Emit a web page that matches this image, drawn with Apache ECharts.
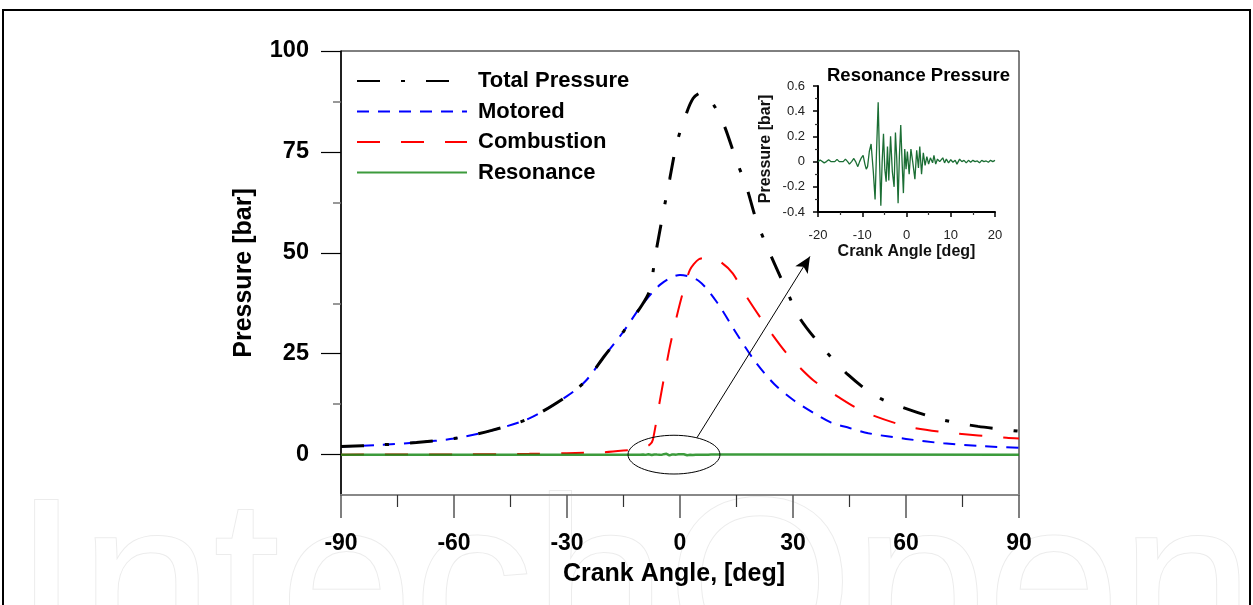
<!DOCTYPE html>
<html>
<head>
<meta charset="utf-8">
<script src="https://cdn.jsdelivr.net/npm/echarts@6/dist/echarts.min.js"></script>
<style>html,body{margin:0;padding:0;background:#fff;}#c{width:1253px;height:605px;}</style>
</head>
<body>
<div id="c"></div>
<script>
// ---- data ----
const xTicks = [-90, -60, -30, 0, 30, 60, 90];
const yTicks = [0, 25, 50, 75, 100];
const yMinorTicks = [12.5, 37.5, 62.5, 87.5];

const totalPressure = [[-90,2.0],[-80,2.4],[-70,3.0],[-60,4.0],[-50,6.0],[-40,9.0],[-30,14.5],[-25,18.3],[-20,24.5],[-15,30.5],[-10,37.2],[-8,40.8],[-6.6,49],[-4.5,59.7],[-2.7,68.4],[-0.9,77],[1.3,83.5],[3.5,88.3],[5.8,89.7],[8,88],[11.4,82.3],[15,72.8],[17.7,66.2],[20.3,58],[23.9,49.8],[28.3,40.7],[31.8,33.8],[38,26.4],[44.6,19.8],[52.2,14.4],[61,11.1],[69.8,8.6],[79.1,7.0],[90,5.8]];

const motored = [[-90,2.0],[-80,2.4],[-70,3.0],[-60,4.0],[-50,6.0],[-40,9.0],[-30,14.5],[-25,18.3],[-20,24.5],[-15,30.5],[-10,37.2],[-5,42.3],[0,44.5],[5,43.0],[10,37.5],[15,30.0],[20,23.0],[25,17.5],[30,13.6],[35,10.6],[40,8.0],[45,6.6],[50,5.3],[60,3.9],[70,2.8],[80,2.1],[90,1.7]];

const combustion = [[-90,0],[-60,0.05],[-40,0.2],[-30,0.35],[-20,0.6],[-15,1.0],[-10,1.6],[-8,2.5],[-7.2,3.7],[-5.3,13.6],[-2.7,26.7],[0,37.5],[2.6,45.7],[5,48.4],[8,48.9],[11,47.6],[14,44.9],[17.7,39.1],[23,31.7],[28.3,25.1],[35.3,18.5],[42,14.3],[48.6,10.7],[60.2,7.0],[71.7,5.4],[86.7,4.2],[90,4.0]];

const resonance = [[-20,0],[-19.5,0.012],[-19.1,0.0],[-18.6,-0.01],[-18.1,0.0],[-17.6,0.014],[-17.1,0.0],[-16.7,-0.012],[-16.2,0.0],[-15.7,0.018],[-15.2,0.0],[-14.8,-0.015],[-14.3,0.0],[-13.8,0.02],[-13.3,0.0],[-12.9,-0.02],[-12.4,0.0],[-11.9,0.025],[-11.5,0.0],[-11.0,-0.04],[-10.6,0.0],[-10.2,0.03],[-9.8,0.05],[-9.4,-0.02],[-9.1,-0.06],[-8.8,-0.04],[-8.4,0.08],[-8.0,0.14],[-7.5,-0.08],[-7.1,-0.30],[-6.8,0.05],[-6.4,0.47],[-6.1,0.02],[-5.8,-0.35],[-5.5,0.0],[-5.2,0.22],[-4.9,-0.06],[-4.6,-0.16],[-4.3,0.12],[-4.0,-0.15],[-3.6,0.2],[-3.2,-0.08],[-2.8,-0.2],[-2.5,0.23],[-2.2,0.02],[-1.9,-0.33],[-1.6,0.05],[-1.3,0.29],[-1.0,0.0],[-0.7,-0.25],[-0.4,0.1],[-0.1,-0.06],[0.2,0.08],[0.6,-0.1],[1.0,0.1],[1.4,0.0],[1.9,-0.14],[2.3,0.09],[2.7,-0.05],[3.0,0.12],[3.4,-0.1],[3.8,0.07],[4.2,-0.03],[4.6,0.04],[5.0,-0.02],[5.4,0.03],[5.9,-0.01],[6.2,0.05],[6.6,-0.02],[7.0,0.02],[7.5,0.0],[8.2,0.03],[8.6,-0.01],[9.0,0.02],[9.5,-0.01],[10,0.015],[10.5,-0.005],[11,0.01],[11.4,-0.02],[12,0.02],[12.5,0.0],[13,0.01],[13.5,-0.01],[14,0.01],[14.5,-0.005],[15,0.01],[15.5,0.0],[16,0.005],[16.5,-0.01],[17,0.01],[17.5,0.0],[18,0.005],[18.5,-0.005],[19,0.01],[19.5,0.0],[20,0.01]];

const arrowFrom = [4.5, 4.2];
const arrowTo = [34.5, 49.1];
const ellipseCenter = [-1.6, 0];
const ellipseHalf = [12.2, 4.8];

const FONT = 'Arial, "Liberation Sans", sans-serif';
const resonanceMain = [[-90,0]].concat(resonance, [[90,0]]);

const chart = echarts.init(document.getElementById('c'), null, {renderer:'canvas'});
const option = {
  animation: false,
  backgroundColor: '#fff',
  textStyle: {fontFamily: FONT},
  grid: [
    {left: 341, top: 51, right: 234, bottom: 110, show: true, borderColor: '#000', borderWidth: 1, containLabel: false},
    {left: 818, top: 86, width: 177, bottom: 393, show: false, containLabel: false}
  ],
  legend: {
    data: ['Total Pressure', 'Motored', 'Combustion', 'Resonance'],
    orient: 'vertical', left: 356, top: 70, padding: 0,
    itemWidth: 110, itemHeight: 14, itemGap: 8.5,
    itemStyle: {opacity: 0},
    textStyle: {fontFamily: FONT, fontWeight: 'bold', fontSize: 22, color: '#000', padding: [0,0,0,6]},
    selectedMode: false
  },
  xAxis: [
    {gridIndex: 0, type: 'value', min: -90, max: 90, interval: 30,
     axisLine: {show: true, onZero: false, lineStyle: {color: '#888', width: 2}},
     axisTick: {show: true, length: 23, lineStyle: {color: '#555', width: 1.5}},
     minorTick: {show: true, splitNumber: 2, length: 12, lineStyle: {color: '#333', width: 1.2}},
     splitLine: {show: false},
     axisLabel: {fontFamily: FONT, fontWeight: 'bold', fontSize: 23, color: '#000', margin: 37},
     name: 'Crank Angle, [deg]', nameLocation: 'middle', nameGap: 67,
     nameTextStyle: {fontFamily: FONT, fontWeight: 'bold', fontSize: 25, color: '#000', padding: [0, 12, 0, 0]}
    },
    {gridIndex: 1, type: 'value', min: -20, max: 20, interval: 10,
     axisLine: {show: true, onZero: false, lineStyle: {color: '#000', width: 2}},
     axisTick: {show: true, length: 5, lineStyle: {color: '#000', width: 1.5}},
     minorTick: {show: true, splitNumber: 2, length: 3, lineStyle: {color: '#333', width: 1.2}},
     splitLine: {show: false},
     axisLabel: {fontFamily: FONT, fontSize: 13, color: '#222', margin: 17},
     name: 'Crank Angle [deg]', nameLocation: 'middle', nameGap: 32,
     nameTextStyle: {fontFamily: FONT, fontWeight: 'bold', fontSize: 16, color: '#111'}
    }
  ],
  yAxis: [
    {gridIndex: 0, type: 'value', min: -10, max: 100, position: 'left',
     axisLine: {show: true, onZero: false, lineStyle: {color: '#000', width: 1.5}},
     axisTick: {show: true, length: 20, customValues: yTicks, lineStyle: {color: '#000', width: 1.2}},
     splitLine: {show: false},
     axisLabel: {fontFamily: FONT, fontWeight: 'bold', fontSize: 23.5, color: '#000', margin: 32, customValues: yTicks},
     name: 'Pressure [bar]', nameLocation: 'middle', nameGap: 84, nameRotate: 90,
     nameTextStyle: {fontFamily: FONT, fontWeight: 'bold', fontSize: 25, color: '#000'}
    },
    {gridIndex: 0, type: 'value', min: -10, max: 100, position: 'left',
     axisLine: {show: false, onZero: false},
     axisTick: {show: true, length: 8, customValues: yMinorTicks, lineStyle: {color: '#777', width: 1.5}},
     axisLabel: {show: false}, splitLine: {show: false}
    },
    {gridIndex: 1, type: 'value', min: -0.4, max: 0.6, interval: 0.2, position: 'left',
     axisLine: {show: true, onZero: false, lineStyle: {color: '#000', width: 2}},
     axisTick: {show: true, length: 5, lineStyle: {color: '#000', width: 1.5}},
     minorTick: {show: true, splitNumber: 2, length: 3, lineStyle: {color: '#333', width: 1.2}},
     splitLine: {show: false},
     axisLabel: {fontFamily: FONT, fontSize: 13, color: '#222', margin: 13},
     name: 'Pressure [bar]', nameLocation: 'middle', nameGap: 44, nameRotate: 90,
     nameTextStyle: {fontFamily: FONT, fontWeight: 'bold', fontSize: 16, color: '#111'}
    }
  ],
  series: [
    {name: 'Combustion', type: 'line', xAxisIndex: 0, yAxisIndex: 0, data: combustion, smooth: 0.25,
     showSymbol: false, symbol: 'none', z: 3,
     itemStyle: {color: '#ff0000'},
     lineStyle: {color: '#ff0000', width: 2, type: [23, 21]}},
    {name: 'Motored', type: 'line', xAxisIndex: 0, yAxisIndex: 0, data: motored, smooth: 0.3,
     showSymbol: false, symbol: 'none', z: 4,
     itemStyle: {color: '#0000ff'},
     lineStyle: {color: '#0000ff', width: 2, type: [12, 9]}},
    {name: 'Total Pressure', type: 'line', xAxisIndex: 0, yAxisIndex: 0, data: totalPressure, smooth: 0.3,
     showSymbol: false, symbol: 'none', z: 5,
     itemStyle: {color: '#000'},
     lineStyle: {color: '#000', width: 3, type: [23, 21, 4, 21]}},
    {name: 'Resonance', type: 'line', xAxisIndex: 0, yAxisIndex: 0, data: resonanceMain,
     showSymbol: false, symbol: 'none', z: 6,
     itemStyle: {color: '#1a8a1a'},
     lineStyle: {color: '#1a8a1a', width: 2.5, opacity: 0.85},
     markLine: {silent: true, symbol: ['none', 'arrow'], symbolSize: [11, 16], label: {show: false},
       lineStyle: {color: '#000', width: 1, type: 'solid'}, emphasis: {disabled: true},
       data: [[{coord: arrowFrom}, {coord: arrowTo}]]}},
    {name: 'Resonance Pressure', type: 'line', xAxisIndex: 1, yAxisIndex: 2, data: resonance,
     showSymbol: false, symbol: 'none', z: 6,
     lineStyle: {color: '#1b6e34', width: 1.3}}
  ]
};
chart.setOption(option);

// annotations placed through the chart's own scales
const c = chart.convertToPixel({gridIndex: 0}, ellipseCenter);
const e = chart.convertToPixel({gridIndex: 0}, [ellipseCenter[0] + ellipseHalf[0], ellipseCenter[1] + ellipseHalf[1]]);
const insetTop = chart.convertToPixel({gridIndex: 1}, [0, 0.6]);
chart.setOption({
  graphic: [
    {type: 'text', left: 12, top: 478, z: -10, silent: true,
     style: {text: 'IntechOpen', font: '240px ' + FONT, fill: '#fff', stroke: '#ececec', lineWidth: 2}},
    {type: 'ellipse', z: 20, silent: true,
     shape: {cx: c[0], cy: c[1], rx: Math.abs(e[0] - c[0]), ry: Math.abs(c[1] - e[1])},
     style: {fill: 'none', stroke: '#000', lineWidth: 1}},
    {type: 'text', z: 20, silent: true, x: insetTop[0] + 12, y: insetTop[1] - 10,
     style: {text: 'Resonance Pressure', font: 'bold 18.5px ' + FONT, fill: '#000', textAlign: 'center', textVerticalAlign: 'middle'}},
    {type: 'rect', z: 30, silent: true, shape: {x: 3, y: 10, width: 1247, height: 640},
     style: {fill: 'none', stroke: '#000', lineWidth: 2}}
  ]
});
</script>
</body>
</html>
